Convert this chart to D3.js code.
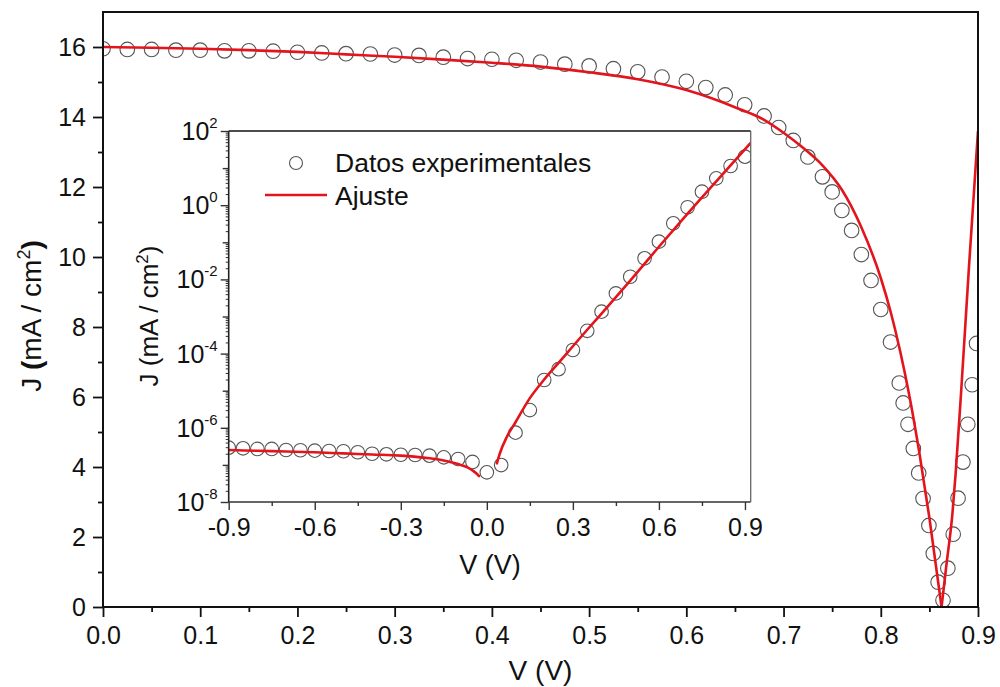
<!DOCTYPE html>
<html>
<head>
<meta charset="utf-8">
<script src="https://cdn.jsdelivr.net/npm/d3@7"></script>
<style>
  html, body { margin: 0; padding: 0; background: #fff; }
  svg { display: block; font-family: "Liberation Sans", Arial, sans-serif; }
</style>
</head>
<body>
<svg id="chart" width="1000" height="687"></svg>
<script>
// ---- Main panel: J–V curve under illumination (|J| in mA/cm²) ----
const mainV = [0, 0.025, 0.05, 0.075, 0.1, 0.125, 0.15, 0.175, 0.2, 0.225, 0.25, 0.275, 0.3, 0.325,
  0.35, 0.375, 0.4, 0.425, 0.45, 0.475, 0.5, 0.525, 0.55, 0.575, 0.6, 0.62, 0.64, 0.66, 0.68, 0.695,
  0.71, 0.725, 0.74, 0.75, 0.76, 0.77, 0.78, 0.79, 0.8, 0.81, 0.819, 0.823, 0.828, 0.8335, 0.839,
  0.8435, 0.8495, 0.854, 0.859, 0.864, 0.869, 0.8745, 0.8795, 0.8845, 0.8895, 0.894, 0.8985];
const mainJ = [15.95, 15.93, 15.93, 15.91, 15.91, 15.89, 15.89, 15.88, 15.85, 15.83, 15.81, 15.80, 15.77, 15.76,
  15.71, 15.67, 15.65, 15.62, 15.57, 15.51, 15.46, 15.38, 15.29, 15.14, 15.02, 14.84, 14.63, 14.35, 14.03, 13.70,
  13.33, 12.86, 12.29, 11.86, 11.33, 10.76, 10.07, 9.33, 8.50, 7.57, 6.40, 5.83, 5.22, 4.53, 3.83,
  3.10, 2.33, 1.53, 0.71, 0.19, 1.11, 2.08, 3.11, 4.14, 5.22, 6.35, 7.53];

// Fitted model curve for the main panel
const fitV = [0, 0.05, 0.1, 0.15, 0.2, 0.25, 0.3, 0.35, 0.4, 0.45, 0.5, 0.55, 0.6, 0.65, 0.68, 0.70,
  0.72, 0.74, 0.76, 0.78, 0.80, 0.81, 0.82, 0.83, 0.84, 0.85, 0.8625, 0.8675, 0.8737, 0.877, 0.883, 0.8907, 0.9];
const fitJ = [16.0, 15.98, 15.95, 15.91, 15.86, 15.79, 15.72, 15.64, 15.55, 15.44, 15.28, 15.08, 14.77, 14.28, 13.92, 13.55,
  13.12, 12.62, 11.92, 10.85, 9.40, 8.45, 7.30, 5.95, 4.35, 2.55, 0, 1.20, 2.67, 3.81, 6.30, 9.71, 13.6];

// ---- Inset: dark J–V on a log scale ----
const insetV = [-0.9, -0.85, -0.8, -0.75, -0.7, -0.65, -0.6, -0.55, -0.5, -0.45, -0.4, -0.35, -0.3, -0.25,
  -0.2, -0.15, -0.1, -0.05, 0.0, 0.05, 0.1, 0.15, 0.2, 0.25, 0.3, 0.35, 0.4, 0.45, 0.5, 0.55, 0.6, 0.65,
  0.7, 0.75, 0.8, 0.85, 0.9];
const insetJ = [2.91e-7, 2.80e-7, 2.69e-7, 2.69e-7, 2.52e-7, 2.48e-7, 2.42e-7, 2.37e-7, 2.33e-7, 2.19e-7,
  2.00e-7, 1.93e-7, 1.88e-7, 1.85e-7, 1.77e-7, 1.60e-7, 1.44e-7, 1.20e-7, 6.3e-8, 9.9e-8, 7.4e-7, 3.0e-6,
  1.94e-5, 3.8e-5, 1.25e-4, 4.1e-4, 1.35e-3, 4.2e-3, 1.18e-2, 3.7e-2, 0.104, 0.325, 0.88, 2.31, 5.3, 11.4, 20.3];

// Fitted model, reverse-bias branch and forward-bias branch
const insetFitNegV = [-0.9, -0.8, -0.7, -0.6, -0.5, -0.4, -0.3, -0.2, -0.15, -0.1, -0.07, -0.05, -0.035, -0.027];
const insetFitNegJ = [2.51e-7, 2.40e-7, 2.29e-7, 2.19e-7, 2.04e-7, 1.91e-7, 1.78e-7, 1.51e-7, 1.32e-7, 1.05e-7,
  8.7e-8, 7.1e-8, 5.75e-8, 5.0e-8];
const insetFitPosV = [0.035, 0.045, 0.07, 0.1, 0.15, 0.2, 0.25, 0.3, 0.35, 0.4, 0.5, 0.6, 0.7, 0.8, 0.92];
const insetFitPosJ = [1.10e-7, 2.0e-7, 5.75e-7, 1.41e-6, 6.3e-6, 2.0e-5, 5.6e-5, 1.58e-4, 4.4e-4, 1.2e-3,
  9.3e-3, 7.6e-2, 0.59, 4.4, 47.9];

// Tick values and labels
const mainXTicks = [0, 0.1, 0.2, 0.3, 0.4, 0.5, 0.6, 0.7, 0.8, 0.9];
const mainXMinor = [0.05, 0.15, 0.25, 0.35, 0.45, 0.55, 0.65, 0.75, 0.85];
const mainYTicks = [0, 2, 4, 6, 8, 10, 12, 14, 16];
const mainYMinor = [1, 3, 5, 7, 9, 11, 13, 15];
const insetXTicks = [-0.9, -0.6, -0.3, 0, 0.3, 0.6, 0.9];
const insetXMinor = [-0.75, -0.45, -0.15, 0.15, 0.45, 0.75];
const insetYExponents = [-8, -6, -4, -2, 0, 2];
const insetYOddExponents = [-7, -5, -3, -1, 1];

const legendLabels = ["Datos experimentales", "Ajuste"];
const xTitle = "V (V)";

const RED = "#e3141b";
const MARK = "#555";

const svg = d3.select("#chart");

// Main plot frame
const M = { left: 103, right: 978, top: 12, bottom: 607 };
const x = d3.scaleLinear().domain([0, 0.9]).range([M.left, M.right]);
const y = d3.scaleLinear().domain([0, 17]).range([M.bottom, M.top]);

// Inset frame
const I = { left: 228.7, right: 750.7, top: 131, bottom: 502 };
const ix = d3.scaleLinear().domain([-0.9, 0.92]).range([I.left, I.right]);
const iy = d3.scaleLog().domain([1e-8, 1e2]).range([I.bottom, I.top]);

const defs = svg.append("defs");
defs.append("clipPath").attr("id", "clip-main")
  .append("rect").attr("x", M.left).attr("y", M.top)
  .attr("width", M.right - M.left).attr("height", M.bottom - M.top);
defs.append("clipPath").attr("id", "clip-inset")
  .append("rect").attr("x", I.left).attr("y", I.top)
  .attr("width", I.right - I.left).attr("height", I.bottom - I.top);

// ---------- Main data ----------
const gMain = svg.append("g").attr("clip-path", "url(#clip-main)");
const mainPts = mainV.map((v, i) => [v, mainJ[i]]);
gMain.selectAll("circle.pt").data(mainPts).join("circle")
  .attr("class", "pt")
  .attr("cx", d => x(d[0])).attr("cy", d => y(d[1])).attr("r", 7.3)
  .attr("fill", "none").attr("stroke", MARK).attr("stroke-width", 1.1);

const fitPts = fitV.map((v, i) => [v, fitJ[i]]);
const tip = d3.minIndex(fitPts, d => d[1]);
const mainLine = d3.line().x(d => x(d[0])).y(d => y(d[1])).curve(d3.curveMonotoneX);
[fitPts.slice(0, tip + 1), fitPts.slice(tip)].forEach(seg => {
  gMain.append("path").attr("d", mainLine(seg))
    .attr("fill", "none").attr("stroke", RED).attr("stroke-width", 2.6)
    .attr("stroke-linejoin", "round");
});

// ---------- Main axes ----------
function styleAxis(g, size) {
  g.select(".domain").remove();
  g.selectAll(".tick line").attr("stroke", "#111").attr("stroke-width", 1.8);
  g.selectAll(".tick text").attr("fill", "#111").attr("font-size", size)
    .attr("font-family", "Liberation Sans, Arial, sans-serif");
}

svg.append("g").attr("transform", `translate(0,${M.bottom})`)
  .call(d3.axisBottom(x).tickValues(mainXMinor).tickSize(5).tickFormat(""))
  .call(g => styleAxis(g, 0));
svg.append("g").attr("transform", `translate(0,${M.bottom})`)
  .call(d3.axisBottom(x).tickValues(mainXTicks).tickSize(10).tickPadding(9)
    .tickFormat(d => d.toFixed(1)))
  .call(g => styleAxis(g, 25));

svg.append("g").attr("transform", `translate(${M.left},0)`)
  .call(d3.axisLeft(y).tickValues(mainYMinor).tickSize(5).tickFormat(""))
  .call(g => styleAxis(g, 0));
svg.append("g").attr("transform", `translate(${M.left},0)`)
  .call(d3.axisLeft(y).tickValues(mainYTicks).tickSize(10).tickPadding(7)
    .tickFormat(d3.format("d")))
  .call(g => styleAxis(g, 25));

svg.append("rect")
  .attr("x", M.left).attr("y", M.top)
  .attr("width", M.right - M.left).attr("height", M.bottom - M.top)
  .attr("fill", "none").attr("stroke", "#111").attr("stroke-width", 2);

// Axis titles
svg.append("text").attr("x", (M.left + M.right) / 2).attr("y", 680)
  .attr("text-anchor", "middle").attr("font-size", 28).attr("fill", "#111")
  .text(xTitle);

const yTitle = svg.append("text")
  .attr("transform", `translate(41,316) rotate(-90)`)
  .attr("text-anchor", "middle").attr("font-size", 28).attr("fill", "#111");
yTitle.append("tspan").text("J ");
yTitle.append("tspan").attr("font-weight", "bold").text("(");
yTitle.append("tspan").text("mA / cm");
yTitle.append("tspan").attr("font-size", 18).attr("dy", -11).text("2");
yTitle.append("tspan").attr("font-weight", "bold").attr("dy", 11).text(")");

// ---------- Inset ----------
svg.append("rect")
  .attr("x", I.left).attr("y", I.top)
  .attr("width", I.right - I.left).attr("height", I.bottom - I.top)
  .attr("fill", "#fff");

const gInset = svg.append("g").attr("clip-path", "url(#clip-inset)");
const insetPts = insetV.map((v, i) => [v, insetJ[i]]);
gInset.selectAll("circle.pt").data(insetPts).join("circle")
  .attr("class", "pt")
  .attr("cx", d => ix(d[0])).attr("cy", d => iy(d[1])).attr("r", 6.8)
  .attr("fill", "none").attr("stroke", MARK).attr("stroke-width", 1.1);

const insetLine = d3.line().x(d => ix(d[0])).y(d => iy(d[1])).curve(d3.curveMonotoneX);
[
  insetFitNegV.map((v, i) => [v, insetFitNegJ[i]]),
  insetFitPosV.map((v, i) => [v, insetFitPosJ[i]])
].forEach(seg => {
  gInset.append("path").attr("d", insetLine(seg))
    .attr("fill", "none").attr("stroke", RED).attr("stroke-width", 2.6)
    .attr("stroke-linecap", "round");
});

// Inset x axis
svg.append("g").attr("transform", `translate(0,${I.bottom})`)
  .call(d3.axisBottom(ix).tickValues(insetXMinor).tickSize(4).tickFormat(""))
  .call(g => { styleAxis(g, 0); g.selectAll(".tick line").attr("stroke-width", 1.4).attr("stroke", "#333"); });
svg.append("g").attr("transform", `translate(0,${I.bottom})`)
  .call(d3.axisBottom(ix).tickValues(insetXTicks).tickSize(8).tickPadding(8)
    .tickFormat(d => d.toFixed(1)))
  .call(g => { styleAxis(g, 25); g.selectAll(".tick line").attr("stroke-width", 1.4).attr("stroke", "#333"); });

// Inset y axis (log): decade ticks plus 2..9 subdivisions
const subTicks = [];
for (let e = -8; e < 2; e++) for (let k = 2; k <= 9; k++) subTicks.push(k * Math.pow(10, e));
svg.append("g").attr("transform", `translate(${I.left},0)`)
  .call(d3.axisLeft(iy).tickValues(subTicks).tickSize(3).tickFormat(""))
  .call(g => { styleAxis(g, 0); g.selectAll(".tick line").attr("stroke-width", 1).attr("stroke", "#333"); });
svg.append("g").attr("transform", `translate(${I.left},0)`)
  .call(d3.axisLeft(iy).tickValues(insetYOddExponents.map(e => Math.pow(10, e))).tickSize(6).tickFormat(""))
  .call(g => { styleAxis(g, 0); g.selectAll(".tick line").attr("stroke-width", 1.4).attr("stroke", "#333"); });
svg.append("g").attr("transform", `translate(${I.left},0)`)
  .call(d3.axisLeft(iy).tickValues(insetYExponents.map(e => Math.pow(10, e))).tickSize(8).tickFormat(""))
  .call(g => { styleAxis(g, 0); g.selectAll(".tick line").attr("stroke-width", 1.4).attr("stroke", "#333"); });

// Decade labels written as 10 with a raised exponent
const yLab = svg.append("g").selectAll("text").data(insetYExponents).join("text")
  .attr("x", I.left - 11).attr("y", e => iy(Math.pow(10, e)) + 9)
  .attr("text-anchor", "end").attr("fill", "#111").attr("font-size", 25);
yLab.append("tspan").text("10");
yLab.append("tspan").attr("font-size", 15).attr("dy", -12).text(e => String(e));

// Inset frame
svg.append("line").attr("x1", I.left).attr("x2", I.right).attr("y1", I.top).attr("y2", I.top)
  .attr("stroke", "#111").attr("stroke-width", 1.6);
svg.append("line").attr("x1", I.left).attr("x2", I.left).attr("y1", I.top).attr("y2", I.bottom)
  .attr("stroke", "#222").attr("stroke-width", 1.6);
svg.append("line").attr("x1", I.left).attr("x2", I.right).attr("y1", I.bottom).attr("y2", I.bottom)
  .attr("stroke", "#333").attr("stroke-width", 1.6);
svg.append("line").attr("x1", I.right).attr("x2", I.right).attr("y1", I.top).attr("y2", I.bottom)
  .attr("stroke", "#666").attr("stroke-width", 1.3);

// Inset axis titles
svg.append("text").attr("x", 490).attr("y", 574)
  .attr("text-anchor", "middle").attr("font-size", 27).attr("fill", "#111")
  .text(xTitle);
const iyTitle = svg.append("text")
  .attr("transform", `translate(158,316) rotate(-90)`)
  .attr("text-anchor", "middle").attr("font-size", 26).attr("fill", "#111");
iyTitle.append("tspan").text("J (mA / cm");
iyTitle.append("tspan").attr("font-size", 17).attr("dy", -10).text("2");
iyTitle.append("tspan").attr("dy", 10).text(")");

// Legend
const legend = svg.append("g");
legend.append("circle").attr("cx", 296).attr("cy", 163).attr("r", 6.5)
  .attr("fill", "none").attr("stroke", MARK).attr("stroke-width", 1.1);
legend.append("line").attr("x1", 265).attr("x2", 327).attr("y1", 195).attr("y2", 195)
  .attr("stroke", RED).attr("stroke-width", 2.6);
legend.selectAll("text").data(legendLabels).join("text")
  .attr("x", 335).attr("y", (d, i) => 172 + i * 33)
  .attr("font-size", 26.5).attr("fill", "#111")
  .text(d => d);
</script>
</body>
</html>
